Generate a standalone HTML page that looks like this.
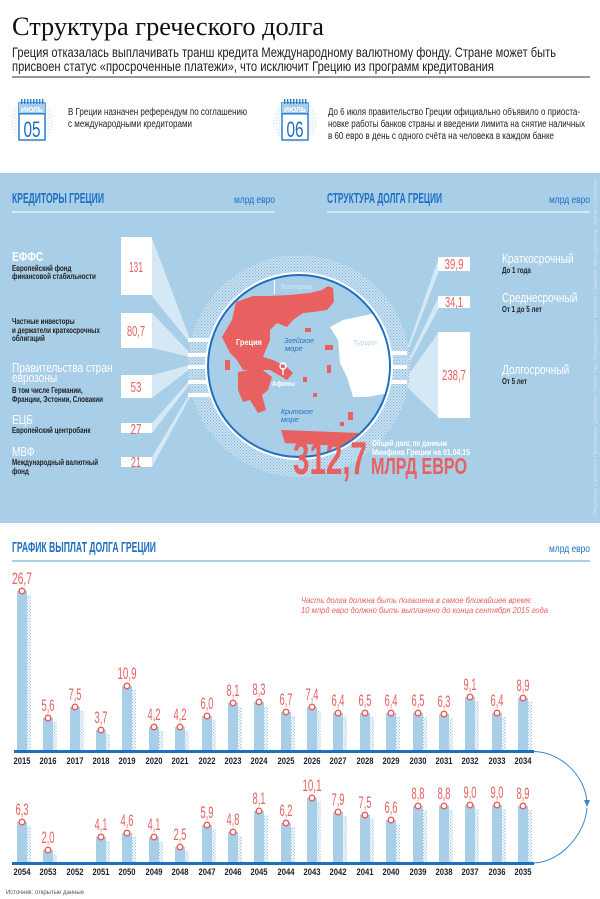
<!DOCTYPE html>
<html><head><meta charset="utf-8">
<style>
html,body{margin:0;padding:0;background:#fff;}
svg{display:block;}
.n{font-family:"Liberation Sans Narrow","Liberation Sans",sans-serif;}
.s{font-family:"Liberation Sans",sans-serif;}
</style></head>
<body>
<svg width="600" height="899" viewBox="0 0 600 899" xmlns="http://www.w3.org/2000/svg">
<defs>
<pattern id="hatch" width="3" height="3" patternUnits="userSpaceOnUse">
<rect width="3" height="3" fill="#c9e0f0"/><rect width="1" height="1" fill="#7fb4da"/><rect x="1.5" y="1.5" width="1" height="1" fill="#7fb4da"/>
</pattern>
<pattern id="hatch2" width="3" height="3" patternUnits="userSpaceOnUse">
<rect width="3" height="3" fill="#fff"/><rect width="1.2" height="1.2" fill="#9ac5e4"/><rect x="1.5" y="1.5" width="1.2" height="1.2" fill="#9ac5e4"/>
</pattern>
<pattern id="hatch3" width="3" height="3" patternUnits="userSpaceOnUse">
<rect width="3" height="3" fill="#fff"/><rect width="1" height="1" fill="#cfe3f3"/><rect x="1.5" y="1.5" width="1" height="1" fill="#cfe3f3"/>
</pattern>
<clipPath id="cc"><circle cx="299" cy="366" r="90"/></clipPath>
</defs>

<!-- header -->
<text x="12" y="35" font-family="Liberation Serif,serif" font-size="26" fill="#111" textLength="312" lengthAdjust="spacingAndGlyphs">Структура греческого долга</text>
<text class="n" x="12" y="57" font-size="14" fill="#222" textLength="544" lengthAdjust="spacingAndGlyphs">Греция отказалась выплачивать транш кредита Международному валютному фонду. Стране может быть</text>
<text class="n" x="12" y="71" font-size="14" fill="#222" textLength="482" lengthAdjust="spacingAndGlyphs">присвоен статус «просроченные платежи», что исключит Грецию из программ кредитования</text>
<rect x="12" y="76" width="578" height="2" fill="#999"/>

<!-- calendars -->
<g>
<circle cx="32" cy="121" r="22" fill="url(#hatch3)"/>
<rect x="19" y="103" width="26" height="37" fill="#fff" stroke="#2b7fd0" stroke-width="1.5"/>
<rect x="19" y="103" width="26" height="11" fill="#a8cde9"/>
<rect x="19" y="113" width="26" height="1.5" fill="#2b7fd0"/>
<g fill="#2b7fd0"><rect x="21" y="99" width="1.4" height="5"/><rect x="24" y="99" width="1.4" height="5"/><rect x="27" y="99" width="1.4" height="5"/><rect x="30" y="99" width="1.4" height="5"/><rect x="33" y="99" width="1.4" height="5"/><rect x="36" y="99" width="1.4" height="5"/><rect x="39" y="99" width="1.4" height="5"/><rect x="42" y="99" width="1.4" height="5"/></g>
<text class="n" x="32" y="112" font-size="7" fill="#fff" text-anchor="middle" font-weight="bold">ИЮЛЬ</text>
<text class="n" x="32" y="137" font-size="22" fill="#1f6fc1" text-anchor="middle" textLength="17" lengthAdjust="spacingAndGlyphs">05</text>
<text class="n" x="68" y="115" font-size="10" fill="#222" textLength="179" lengthAdjust="spacingAndGlyphs">В Греции назначен референдум по соглашению</text>
<text class="n" x="68" y="127" font-size="10" fill="#222" textLength="124" lengthAdjust="spacingAndGlyphs">с международными кредиторами</text>
</g>
<g>
<circle cx="295" cy="121" r="22" fill="url(#hatch3)"/>
<rect x="282" y="103" width="26" height="37" fill="#fff" stroke="#2b7fd0" stroke-width="1.5"/>
<rect x="282" y="103" width="26" height="11" fill="#a8cde9"/>
<rect x="282" y="113" width="26" height="1.5" fill="#2b7fd0"/>
<g fill="#2b7fd0"><rect x="284" y="99" width="1.4" height="5"/><rect x="287" y="99" width="1.4" height="5"/><rect x="290" y="99" width="1.4" height="5"/><rect x="293" y="99" width="1.4" height="5"/><rect x="296" y="99" width="1.4" height="5"/><rect x="299" y="99" width="1.4" height="5"/><rect x="302" y="99" width="1.4" height="5"/><rect x="305" y="99" width="1.4" height="5"/></g>
<text class="n" x="295" y="112" font-size="7" fill="#fff" text-anchor="middle" font-weight="bold">ИЮЛЬ</text>
<text class="n" x="295" y="137" font-size="22" fill="#1f6fc1" text-anchor="middle" textLength="17" lengthAdjust="spacingAndGlyphs">06</text>
<text class="n" x="328" y="115" font-size="10" fill="#222" textLength="252" lengthAdjust="spacingAndGlyphs">До 6 июля правительство Греции официально объявило о приоста-</text>
<text class="n" x="328" y="127" font-size="10" fill="#222" textLength="257" lengthAdjust="spacingAndGlyphs">новке работы банков страны и введении лимита на снятие наличных</text>
<text class="n" x="328" y="139" font-size="10" fill="#222" textLength="226" lengthAdjust="spacingAndGlyphs">в 60 евро в день с одного счёта на человека в каждом банке</text>
</g>

<!-- blue panel -->
<rect x="0" y="173" width="600" height="350" fill="#a8cee8"/>
<text class="n" x="12" y="203" font-size="15" font-weight="bold" fill="#1f6fc1" textLength="92" lengthAdjust="spacingAndGlyphs">КРЕДИТОРЫ ГРЕЦИИ</text>
<text class="n" x="275" y="203" font-size="10" fill="#1f6fc1" text-anchor="end" textLength="41" lengthAdjust="spacingAndGlyphs">млрд евро</text>
<rect x="12" y="211" width="263" height="2" fill="#d4e7f4"/>
<text class="n" x="327" y="203" font-size="15" font-weight="bold" fill="#1f6fc1" textLength="115" lengthAdjust="spacingAndGlyphs">СТРУКТУРА ДОЛГА ГРЕЦИИ</text>
<text class="n" x="590" y="203" font-size="10" fill="#1f6fc1" text-anchor="end" textLength="41" lengthAdjust="spacingAndGlyphs">млрд евро</text>
<rect x="327" y="211" width="263" height="2" fill="#d4e7f4"/>
<text class="s" transform="translate(597,515) rotate(-90)" font-size="5.5" fill="#cfe3f2" textLength="335" lengthAdjust="spacingAndGlyphs">Редактор: Светлана Прохорова. Дизайнер: Олеся Тюк. Руководитель: Михаил Самаков. Арт-директор: Антон Степанов</text>

<!-- connectors left -->
<g fill="#d5e8f5">
<polygon points="152,238 152,296 190,343 190,339"/>
<polygon points="152,313 152,348 190,357 190,353"/>
<polygon points="152,375 152,398 190,369 190,365"/>
<polygon points="152,423 152,433 190,384 190,380"/>
<polygon points="152,457 152,467 190,397 190,393"/>
</g>
<!-- connectors right -->
<g fill="#d5e8f5">
<polygon points="406,352 406,356 439,271 439,257"/>
<polygon points="406,365 406,369 439,308 439,296"/>
<polygon points="406,378 406,386 439,418 439,332"/>
</g>

<!-- circle -->
<circle cx="299" cy="366" r="111" fill="url(#hatch)"/>
<g fill="#fff">
<rect x="188" y="338" width="22" height="4"/><rect x="188" y="353" width="22" height="4"/><rect x="188" y="365" width="22" height="4"/><rect x="188" y="380" width="22" height="4"/><rect x="188" y="393" width="22" height="4"/>
<rect x="388" y="351" width="19" height="4"/><rect x="388" y="365" width="19" height="4"/><rect x="388" y="380" width="19" height="4"/>
</g>
<circle cx="299" cy="366" r="94" fill="#fff"/>
<circle cx="299" cy="366" r="91" fill="#a8cee8" stroke="#1f6fc1" stroke-width="2"/>
<g clip-path="url(#cc)">
<polygon fill="#fff" points="330,327 343,320 367,315 395,308 395,392 367,397 353,397 347,377 340,363 338,340"/>
<polygon fill="#e8605f" points="222,337 232,320 236,302 253,296 270,296 290,295 310,293 322,290 328,286 333,288 334,302 327,310 313,312 303,313 293,320 287,327 277,323 270,330 270,340 267,347 263,357 273,360 287,367 293,373 287,380 270,370 257,370 243,370 237,360 230,353"/>
<polygon fill="#e8605f" points="238,372 260,368 272,377 268,390 262,395 266,410 258,413 250,400 243,402 238,390"/>
<polygon fill="#e8605f" points="281,430 360,433 360,447 285,443"/>
<g fill="#e8605f"><rect x="225" y="360" width="5" height="10"/><rect x="305" y="328" width="6" height="4"/><rect x="325" y="345" width="8" height="5"/><rect x="327" y="365" width="4" height="8"/><rect x="303" y="377" width="4" height="5"/><rect x="313" y="393" width="4" height="4"/><rect x="348" y="412" width="5" height="8"/><rect x="340" y="422" width="4" height="4"/></g>
<rect x="274" y="280" width="1" height="14" fill="#fff"/>
</g>
<text class="s" x="281" y="289" font-size="7.5" fill="#d8eaf6" textLength="31" lengthAdjust="spacingAndGlyphs">Болгария</text>
<text class="s" x="236" y="345" font-size="8" font-weight="bold" fill="#fff" textLength="26" lengthAdjust="spacingAndGlyphs">Греция</text>
<text class="s" x="284" y="343" font-size="7.5" font-style="italic" fill="#1f6fc1" textLength="30" lengthAdjust="spacingAndGlyphs">Эгейское</text>
<text class="s" x="285" y="351" font-size="7.5" font-style="italic" fill="#1f6fc1">море</text>
<text class="s" x="353" y="345" font-size="7.5" fill="#b9d8ee" textLength="24" lengthAdjust="spacingAndGlyphs">Турция</text>
<circle cx="283" cy="366" r="3" fill="none" stroke="#fff" stroke-width="1.5"/>
<rect x="282.3" y="369" width="1.4" height="6" fill="#fff"/>
<text class="s" x="272" y="386" font-size="7.5" font-weight="bold" fill="#fff" textLength="23" lengthAdjust="spacingAndGlyphs">Афины</text>
<text class="s" x="281" y="414" font-size="7.5" font-style="italic" fill="#1f6fc1" textLength="32" lengthAdjust="spacingAndGlyphs">Критское</text>
<text class="s" x="281" y="422" font-size="7.5" font-style="italic" fill="#1f6fc1">море</text>

<text class="n" x="293" y="474" font-size="46" font-weight="bold" fill="#e8605f" textLength="74" lengthAdjust="spacingAndGlyphs">312,7</text>
<text class="n" x="371" y="474" font-size="23" font-weight="bold" fill="#e8605f" textLength="96" lengthAdjust="spacingAndGlyphs">МЛРД ЕВРО</text>
<text class="n" x="372" y="446" font-size="8.5" font-weight="bold" fill="#fff" textLength="75" lengthAdjust="spacingAndGlyphs">Общий долг, по данным</text>
<text class="n" x="372" y="455" font-size="8.5" font-weight="bold" fill="#fff" textLength="98" lengthAdjust="spacingAndGlyphs">Минфина Греции на 01.04.15</text>

<!-- boxes -->
<g fill="#fff">
<rect x="121" y="237" width="31" height="58"/><rect x="121" y="313" width="31" height="35"/><rect x="121" y="375" width="31" height="23"/><rect x="121" y="423" width="31" height="10"/><rect x="121" y="457" width="31" height="10"/>
<rect x="438" y="257" width="32" height="14"/><rect x="438" y="296" width="32" height="12"/><rect x="438" y="332" width="32" height="86"/>
</g>
<g class="n" font-size="15" fill="#e8605f" text-anchor="middle">
<text x="136" y="272" textLength="14" lengthAdjust="spacingAndGlyphs">131</text>
<text x="136" y="336" textLength="18" lengthAdjust="spacingAndGlyphs">80,7</text>
<text x="136" y="392" textLength="11" lengthAdjust="spacingAndGlyphs">53</text>
<text x="136" y="434" textLength="11" lengthAdjust="spacingAndGlyphs">27</text>
<text x="136" y="467" textLength="10" lengthAdjust="spacingAndGlyphs">21</text>
<text x="454" y="269" textLength="19" lengthAdjust="spacingAndGlyphs">39,9</text>
<text x="454" y="307" textLength="18" lengthAdjust="spacingAndGlyphs">34,1</text>
<text x="454" y="380" textLength="24" lengthAdjust="spacingAndGlyphs">238,7</text>
</g>

<!-- left labels -->
<g class="n" transform="translate(12,0) scale(0.78,1)">
<text x="0" y="261" font-size="13" font-weight="bold" fill="#fff">ЕФФС</text>
<text x="0" y="271" font-size="8" font-weight="bold" fill="#222">Европейский фонд</text>
<text x="0" y="279" font-size="8" font-weight="bold" fill="#222">финансовой стабильности</text>
<text x="0" y="324" font-size="8" font-weight="bold" fill="#222">Частные инвесторы</text>
<text x="0" y="333" font-size="8" font-weight="bold" fill="#222">и держатели краткосрочных</text>
<text x="0" y="341" font-size="8" font-weight="bold" fill="#222">облигаций</text>
<text x="0" y="372" font-size="13" fill="#fff">Правительства стран</text>
<text x="0" y="382" font-size="13" fill="#fff">еврозоны</text>
<text x="0" y="393" font-size="8" font-weight="bold" fill="#222">В том числе Германии,</text>
<text x="0" y="402" font-size="8" font-weight="bold" fill="#222">Франции, Эстонии, Словакии</text>
<text x="0" y="424" font-size="13" fill="#fff">ЕЦБ</text>
<text x="0" y="433" font-size="8" font-weight="bold" fill="#222">Европейский центробанк</text>
<text x="0" y="456" font-size="13" fill="#fff">МВФ</text>
<text x="0" y="465" font-size="8" font-weight="bold" fill="#222">Международный валютный</text>
<text x="0" y="474" font-size="8" font-weight="bold" fill="#222">фонд</text>
</g>
<g class="n" transform="translate(502,0) scale(0.78,1)">
<text x="0" y="263" font-size="13" fill="#fff">Краткосрочный</text>
<text x="0" y="273" font-size="8" font-weight="bold" fill="#222">До 1 года</text>
<text x="0" y="302" font-size="13" fill="#fff">Среднесрочный</text>
<text x="0" y="312" font-size="8" font-weight="bold" fill="#222">От 1 до 5 лет</text>
<text x="0" y="374" font-size="13" fill="#fff">Долгосрочный</text>
<text x="0" y="384" font-size="8" font-weight="bold" fill="#222">От 5 лет</text>
</g>

<!-- chart -->
<rect x="0" y="523" width="600" height="2" fill="url(#hatch3)"/>
<text class="n" x="12" y="552" font-size="15" font-weight="bold" fill="#1f6fc1" textLength="144" lengthAdjust="spacingAndGlyphs">ГРАФИК ВЫПЛАТ ДОЛГА ГРЕЦИИ</text>
<text class="n" x="590" y="552" font-size="10" fill="#1f6fc1" text-anchor="end" textLength="41" lengthAdjust="spacingAndGlyphs">млрд евро</text>
<rect x="12" y="560" width="578" height="2" fill="#a8cee8"/>
<text class="s" x="301" y="603" font-size="8.5" font-style="italic" fill="#e8605f" textLength="231" lengthAdjust="spacingAndGlyphs">Часть долга должна быть погашена в самое ближайшее время:</text>
<text class="s" x="301" y="613" font-size="8.5" font-style="italic" fill="#e8605f" textLength="247" lengthAdjust="spacingAndGlyphs">10 млрд евро должно быть выплачено до конца сентября 2015 года</text>

<!-- top bars -->
<g fill="url(#hatch2)">
<rect x="27" y="595" width="4" height="157"/><rect x="53" y="722" width="4" height="30"/><rect x="80" y="711" width="4" height="41"/><rect x="106" y="734" width="4" height="18"/><rect x="132" y="690" width="4" height="62"/><rect x="159" y="731" width="4" height="21"/><rect x="185" y="731" width="4" height="21"/><rect x="212" y="720" width="4" height="32"/><rect x="238" y="707" width="4" height="45"/><rect x="264" y="706" width="4" height="46"/><rect x="291" y="716" width="4" height="36"/><rect x="317" y="711" width="4" height="41"/><rect x="343" y="717" width="4" height="35"/><rect x="370" y="717" width="4" height="35"/><rect x="396" y="717" width="4" height="35"/><rect x="423" y="717" width="4" height="35"/><rect x="449" y="718" width="4" height="34"/><rect x="475" y="701" width="4" height="51"/><rect x="502" y="717" width="4" height="35"/><rect x="528" y="702" width="4" height="50"/>
</g>
<g fill="#a8cee8">
<rect x="17" y="591" width="10" height="161"/><rect x="43" y="718" width="10" height="34"/><rect x="70" y="707" width="10" height="45"/><rect x="96" y="730" width="10" height="22"/><rect x="122" y="686" width="10" height="66"/><rect x="149" y="727" width="10" height="25"/><rect x="175" y="727" width="10" height="25"/><rect x="202" y="716" width="10" height="36"/><rect x="228" y="703" width="10" height="49"/><rect x="254" y="702" width="10" height="50"/><rect x="281" y="712" width="10" height="40"/><rect x="307" y="707" width="10" height="45"/><rect x="333" y="713" width="10" height="39"/><rect x="360" y="713" width="10" height="39"/><rect x="386" y="713" width="10" height="39"/><rect x="413" y="713" width="10" height="39"/><rect x="439" y="714" width="10" height="38"/><rect x="465" y="697" width="10" height="55"/><rect x="492" y="713" width="10" height="39"/><rect x="518" y="698" width="10" height="54"/>
</g>
<g fill="#fff" stroke="#e8605f" stroke-width="1.5">
<circle cx="22" cy="591" r="2.8"/><circle cx="48" cy="718" r="2.8"/><circle cx="75" cy="707" r="2.8"/><circle cx="101" cy="730" r="2.8"/><circle cx="127" cy="686" r="2.8"/><circle cx="154" cy="727" r="2.8"/><circle cx="180" cy="727" r="2.8"/><circle cx="207" cy="716" r="2.8"/><circle cx="233" cy="703" r="2.8"/><circle cx="259" cy="702" r="2.8"/><circle cx="286" cy="712" r="2.8"/><circle cx="312" cy="707" r="2.8"/><circle cx="338" cy="713" r="2.8"/><circle cx="365" cy="713" r="2.8"/><circle cx="391" cy="713" r="2.8"/><circle cx="418" cy="713" r="2.8"/><circle cx="444" cy="714" r="2.8"/><circle cx="470" cy="697" r="2.8"/><circle cx="497" cy="713" r="2.8"/><circle cx="523" cy="698" r="2.8"/>
</g>
<g class="n" font-size="17" fill="#e8605f" text-anchor="middle">
<text x="22" y="584" textLength="20" lengthAdjust="spacingAndGlyphs">26,7</text>
<text x="48" y="711" textLength="13" lengthAdjust="spacingAndGlyphs">5,6</text>
<text x="75" y="700" textLength="13" lengthAdjust="spacingAndGlyphs">7,5</text>
<text x="101" y="723" textLength="13" lengthAdjust="spacingAndGlyphs">3,7</text>
<text x="127" y="679" textLength="19" lengthAdjust="spacingAndGlyphs">10,9</text>
<text x="154" y="720" textLength="13" lengthAdjust="spacingAndGlyphs">4,2</text>
<text x="180" y="720" textLength="13" lengthAdjust="spacingAndGlyphs">4,2</text>
<text x="207" y="709" textLength="13" lengthAdjust="spacingAndGlyphs">6,0</text>
<text x="233" y="696" textLength="13" lengthAdjust="spacingAndGlyphs">8,1</text>
<text x="259" y="695" textLength="13" lengthAdjust="spacingAndGlyphs">8,3</text>
<text x="286" y="705" textLength="13" lengthAdjust="spacingAndGlyphs">6,7</text>
<text x="312" y="700" textLength="13" lengthAdjust="spacingAndGlyphs">7,4</text>
<text x="338" y="706" textLength="13" lengthAdjust="spacingAndGlyphs">6,4</text>
<text x="365" y="706" textLength="13" lengthAdjust="spacingAndGlyphs">6,5</text>
<text x="391" y="706" textLength="13" lengthAdjust="spacingAndGlyphs">6,4</text>
<text x="418" y="706" textLength="13" lengthAdjust="spacingAndGlyphs">6,5</text>
<text x="444" y="707" textLength="13" lengthAdjust="spacingAndGlyphs">6,3</text>
<text x="470" y="690" textLength="13" lengthAdjust="spacingAndGlyphs">9,1</text>
<text x="497" y="706" textLength="13" lengthAdjust="spacingAndGlyphs">6,4</text>
<text x="523" y="691" textLength="13" lengthAdjust="spacingAndGlyphs">8,9</text>
</g>
<rect x="14" y="750" width="520" height="3" fill="#1f6fc1"/>
<g class="n" font-size="9" font-weight="bold" fill="#222" text-anchor="middle">
<text x="22" y="764" textLength="17" lengthAdjust="spacingAndGlyphs">2015</text><text x="48" y="764" textLength="17" lengthAdjust="spacingAndGlyphs">2016</text><text x="75" y="764" textLength="17" lengthAdjust="spacingAndGlyphs">2017</text><text x="101" y="764" textLength="17" lengthAdjust="spacingAndGlyphs">2018</text><text x="127" y="764" textLength="17" lengthAdjust="spacingAndGlyphs">2019</text><text x="154" y="764" textLength="17" lengthAdjust="spacingAndGlyphs">2020</text><text x="180" y="764" textLength="17" lengthAdjust="spacingAndGlyphs">2021</text><text x="207" y="764" textLength="17" lengthAdjust="spacingAndGlyphs">2022</text><text x="233" y="764" textLength="17" lengthAdjust="spacingAndGlyphs">2023</text><text x="259" y="764" textLength="17" lengthAdjust="spacingAndGlyphs">2024</text><text x="286" y="764" textLength="17" lengthAdjust="spacingAndGlyphs">2025</text><text x="312" y="764" textLength="17" lengthAdjust="spacingAndGlyphs">2026</text><text x="338" y="764" textLength="17" lengthAdjust="spacingAndGlyphs">2027</text><text x="365" y="764" textLength="17" lengthAdjust="spacingAndGlyphs">2028</text><text x="391" y="764" textLength="17" lengthAdjust="spacingAndGlyphs">2029</text><text x="418" y="764" textLength="17" lengthAdjust="spacingAndGlyphs">2030</text><text x="444" y="764" textLength="17" lengthAdjust="spacingAndGlyphs">2031</text><text x="470" y="764" textLength="17" lengthAdjust="spacingAndGlyphs">2032</text><text x="497" y="764" textLength="17" lengthAdjust="spacingAndGlyphs">2033</text><text x="523" y="764" textLength="17" lengthAdjust="spacingAndGlyphs">2034</text>
</g>
<path d="M534,751.5 C560,752 585,775 587,802 M587,808 C585,835 560,862 534,863" fill="none" stroke="#3a86cc" stroke-width="1"/>
<polygon points="584,800 590,800 587,807" fill="#3a86cc"/>

<!-- bottom bars -->
<g fill="url(#hatch2)">
<rect x="27" y="826" width="4" height="37"/><rect x="53" y="854" width="4" height="9"/><rect x="106" y="841" width="4" height="22"/><rect x="132" y="837" width="4" height="26"/><rect x="159" y="841" width="4" height="22"/><rect x="185" y="851" width="4" height="12"/><rect x="212" y="829" width="4" height="34"/><rect x="238" y="836" width="4" height="27"/><rect x="264" y="815" width="4" height="48"/><rect x="291" y="827" width="4" height="36"/><rect x="317" y="802" width="4" height="61"/><rect x="343" y="816" width="4" height="47"/><rect x="370" y="819" width="4" height="44"/><rect x="396" y="824" width="4" height="39"/><rect x="423" y="810" width="4" height="53"/><rect x="449" y="810" width="4" height="53"/><rect x="475" y="809" width="4" height="54"/><rect x="502" y="809" width="4" height="54"/><rect x="528" y="810" width="4" height="53"/>
</g>
<g fill="#a8cee8">
<rect x="17" y="822" width="10" height="41"/><rect x="43" y="850" width="10" height="13"/><rect x="96" y="837" width="10" height="26"/><rect x="122" y="833" width="10" height="30"/><rect x="149" y="837" width="10" height="26"/><rect x="175" y="847" width="10" height="16"/><rect x="202" y="825" width="10" height="38"/><rect x="228" y="832" width="10" height="31"/><rect x="254" y="811" width="10" height="52"/><rect x="281" y="823" width="10" height="40"/><rect x="307" y="798" width="10" height="65"/><rect x="333" y="812" width="10" height="51"/><rect x="360" y="815" width="10" height="48"/><rect x="386" y="820" width="10" height="43"/><rect x="413" y="806" width="10" height="57"/><rect x="439" y="806" width="10" height="57"/><rect x="465" y="805" width="10" height="58"/><rect x="492" y="805" width="10" height="58"/><rect x="518" y="806" width="10" height="57"/>
</g>
<g fill="#fff" stroke="#e8605f" stroke-width="1.5">
<circle cx="22" cy="822" r="2.8"/><circle cx="48" cy="850" r="2.8"/><circle cx="101" cy="837" r="2.8"/><circle cx="127" cy="833" r="2.8"/><circle cx="154" cy="837" r="2.8"/><circle cx="180" cy="847" r="2.8"/><circle cx="207" cy="825" r="2.8"/><circle cx="233" cy="832" r="2.8"/><circle cx="259" cy="811" r="2.8"/><circle cx="286" cy="823" r="2.8"/><circle cx="312" cy="798" r="2.8"/><circle cx="338" cy="812" r="2.8"/><circle cx="365" cy="815" r="2.8"/><circle cx="391" cy="820" r="2.8"/><circle cx="418" cy="806" r="2.8"/><circle cx="444" cy="806" r="2.8"/><circle cx="470" cy="805" r="2.8"/><circle cx="497" cy="805" r="2.8"/><circle cx="523" cy="806" r="2.8"/>
</g>
<g class="n" font-size="17" fill="#e8605f" text-anchor="middle">
<text x="22" y="815" textLength="13" lengthAdjust="spacingAndGlyphs">6,3</text>
<text x="48" y="843" textLength="13" lengthAdjust="spacingAndGlyphs">2,0</text>
<text x="101" y="830" textLength="13" lengthAdjust="spacingAndGlyphs">4,1</text>
<text x="127" y="826" textLength="13" lengthAdjust="spacingAndGlyphs">4,6</text>
<text x="154" y="830" textLength="13" lengthAdjust="spacingAndGlyphs">4,1</text>
<text x="180" y="840" textLength="13" lengthAdjust="spacingAndGlyphs">2,5</text>
<text x="207" y="818" textLength="13" lengthAdjust="spacingAndGlyphs">5,9</text>
<text x="233" y="825" textLength="13" lengthAdjust="spacingAndGlyphs">4,8</text>
<text x="259" y="804" textLength="13" lengthAdjust="spacingAndGlyphs">8,1</text>
<text x="286" y="816" textLength="13" lengthAdjust="spacingAndGlyphs">6,2</text>
<text x="312" y="791" textLength="19" lengthAdjust="spacingAndGlyphs">10,1</text>
<text x="338" y="805" textLength="13" lengthAdjust="spacingAndGlyphs">7,9</text>
<text x="365" y="808" textLength="13" lengthAdjust="spacingAndGlyphs">7,5</text>
<text x="391" y="813" textLength="13" lengthAdjust="spacingAndGlyphs">6,6</text>
<text x="418" y="799" textLength="13" lengthAdjust="spacingAndGlyphs">8,8</text>
<text x="444" y="799" textLength="13" lengthAdjust="spacingAndGlyphs">8,8</text>
<text x="470" y="798" textLength="13" lengthAdjust="spacingAndGlyphs">9,0</text>
<text x="497" y="798" textLength="13" lengthAdjust="spacingAndGlyphs">9,0</text>
<text x="523" y="799" textLength="13" lengthAdjust="spacingAndGlyphs">8,9</text>
</g>
<rect x="12" y="862" width="522" height="3" fill="#1f6fc1"/>
<g class="n" font-size="9" font-weight="bold" fill="#222" text-anchor="middle">
<text x="22" y="875" textLength="17" lengthAdjust="spacingAndGlyphs">2054</text><text x="48" y="875" textLength="17" lengthAdjust="spacingAndGlyphs">2053</text><text x="75" y="875" textLength="17" lengthAdjust="spacingAndGlyphs">2052</text><text x="101" y="875" textLength="17" lengthAdjust="spacingAndGlyphs">2051</text><text x="127" y="875" textLength="17" lengthAdjust="spacingAndGlyphs">2050</text><text x="154" y="875" textLength="17" lengthAdjust="spacingAndGlyphs">2049</text><text x="180" y="875" textLength="17" lengthAdjust="spacingAndGlyphs">2048</text><text x="207" y="875" textLength="17" lengthAdjust="spacingAndGlyphs">2047</text><text x="233" y="875" textLength="17" lengthAdjust="spacingAndGlyphs">2046</text><text x="259" y="875" textLength="17" lengthAdjust="spacingAndGlyphs">2045</text><text x="286" y="875" textLength="17" lengthAdjust="spacingAndGlyphs">2044</text><text x="312" y="875" textLength="17" lengthAdjust="spacingAndGlyphs">2043</text><text x="338" y="875" textLength="17" lengthAdjust="spacingAndGlyphs">2042</text><text x="365" y="875" textLength="17" lengthAdjust="spacingAndGlyphs">2041</text><text x="391" y="875" textLength="17" lengthAdjust="spacingAndGlyphs">2040</text><text x="418" y="875" textLength="17" lengthAdjust="spacingAndGlyphs">2039</text><text x="444" y="875" textLength="17" lengthAdjust="spacingAndGlyphs">2038</text><text x="470" y="875" textLength="17" lengthAdjust="spacingAndGlyphs">2037</text><text x="497" y="875" textLength="17" lengthAdjust="spacingAndGlyphs">2036</text><text x="523" y="875" textLength="17" lengthAdjust="spacingAndGlyphs">2035</text>
</g>
<text class="s" x="6" y="894" font-size="6" fill="#555" textLength="78" lengthAdjust="spacingAndGlyphs">Источник: открытые данные</text>
</svg>
</body></html>
